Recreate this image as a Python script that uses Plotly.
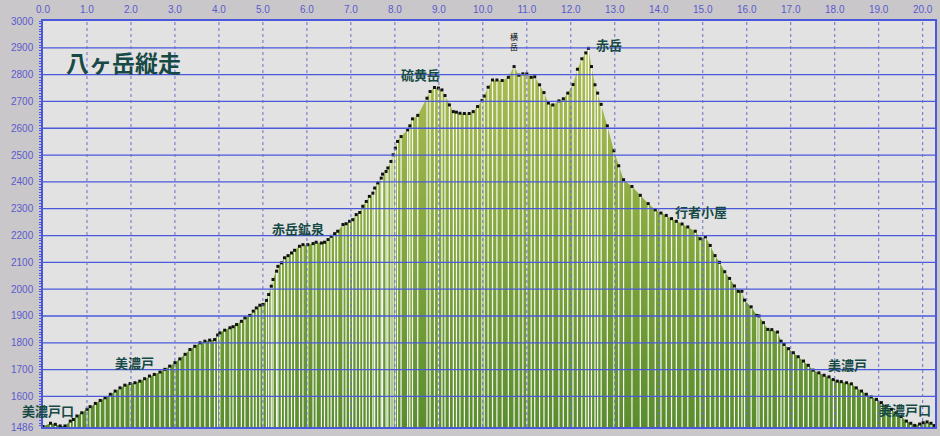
import plotly.graph_objects as go

# distance along route (km) and elevation (m)
dist_km = [
    0.00, 0.17, 0.28, 0.39, 0.50, 0.62, 0.69, 0.77, 0.88, 1.00,
    1.07, 1.19, 1.30, 1.41, 1.53, 1.64, 1.75, 1.86, 1.98, 2.09,
    2.20, 2.31, 2.42, 2.53, 2.66, 2.77, 2.88, 3.00, 3.11, 3.23,
    3.34, 3.45, 3.57, 3.68, 3.79, 3.90, 3.97, 4.02, 4.13, 4.25,
    4.32, 4.40, 4.51, 4.59, 4.70, 4.78, 4.85, 4.93, 5.00, 5.08,
    5.13, 5.19, 5.23, 5.31, 5.34, 5.42, 5.49, 5.57, 5.65, 5.72,
    5.83, 5.91, 6.02, 6.14, 6.21, 6.33, 6.40, 6.48, 6.55, 6.63,
    6.70, 6.82, 6.89, 6.97, 7.04, 7.12, 7.20, 7.27, 7.35, 7.42,
    7.50, 7.54, 7.61, 7.69, 7.72, 7.80, 7.84, 7.91, 7.96, 8.01,
    8.06, 8.14, 8.29, 8.34, 8.40, 8.52, 8.73, 8.80, 8.90, 8.99,
    9.07, 9.14, 9.24, 9.33, 9.40, 9.48, 9.58, 9.69, 9.78, 9.88,
    9.98, 10.03, 10.12, 10.22, 10.32, 10.44, 10.58, 10.71, 10.82, 10.91,
    11.00, 11.10, 11.18, 11.29, 11.39, 11.49, 11.59, 11.73, 11.83, 11.93,
    12.05, 12.15, 12.25, 12.34, 12.40, 12.47, 12.55, 12.61, 12.69, 12.83,
    12.98, 13.09, 13.20, 13.39, 13.58, 13.76, 13.92, 14.05, 14.17, 14.29,
    14.40, 14.53, 14.66, 14.83, 14.94, 15.06, 15.17, 15.28, 15.38, 15.50,
    15.61, 15.72, 15.81, 15.89, 15.95, 16.10, 16.23, 16.28, 16.38, 16.48,
    16.57, 16.70, 16.78, 16.85, 16.95, 17.06, 17.17, 17.29, 17.40, 17.51,
    17.64, 17.76, 17.87, 17.97, 18.06, 18.15, 18.27, 18.38, 18.49, 18.61,
    18.72, 18.83, 18.95, 19.06, 19.17, 19.29, 19.40, 19.51, 19.63, 19.73,
    19.82, 19.93, 20.01, 20.10, 20.19, 20.27,
]
elev_m = [
    1488, 1500, 1496, 1490, 1490, 1508, 1514, 1527, 1539, 1552,
    1562, 1574, 1585, 1595, 1608, 1620, 1632, 1642, 1648, 1651,
    1657, 1666, 1676, 1682, 1691, 1701, 1713, 1726, 1740, 1757,
    1775, 1787, 1800, 1806, 1810, 1812, 1829, 1837, 1847, 1856,
    1860, 1868, 1880, 1893, 1902, 1918, 1930, 1940, 1943, 1958,
    1980, 2011, 2036, 2067, 2085, 2098, 2117, 2125, 2135, 2145,
    2160, 2166, 2166, 2170, 2175, 2172, 2175, 2185, 2197, 2207,
    2216, 2241, 2244, 2253, 2259, 2278, 2286, 2309, 2327, 2346,
    2358, 2377, 2396, 2414, 2429, 2439, 2452, 2476, 2501, 2526,
    2551, 2569, 2594, 2609, 2635, 2648, 2712, 2737, 2752, 2750,
    2743, 2722, 2687, 2662, 2660, 2656, 2655, 2655, 2662, 2681,
    2703, 2720, 2753, 2780, 2780, 2778, 2790, 2830, 2798, 2803,
    2803, 2790, 2792, 2762, 2733, 2694, 2687, 2702, 2710, 2731,
    2763, 2820, 2859, 2881, 2898, 2830, 2762, 2731, 2689, 2609,
    2516, 2460, 2408, 2383, 2350, 2319, 2296, 2284, 2275, 2263,
    2253, 2243, 2232, 2216, 2188, 2195, 2163, 2125, 2100, 2065,
    2040, 2012, 1992, 1992, 1959, 1934, 1902, 1900, 1875, 1850,
    1849, 1840, 1806, 1794, 1778, 1763, 1748, 1732, 1716, 1698,
    1688, 1679, 1673, 1663, 1657, 1655, 1651, 1647, 1632, 1620,
    1608, 1598, 1589, 1577, 1564, 1552, 1539, 1525, 1508, 1500,
    1492, 1497, 1502, 1505, 1500, 1492,
]

# place-name labels: text, km, elevation
label_text = ["美濃戸口", "美濃戸", "赤岳鉱泉", "硫黄岳", "赤岳", "行者小屋", "美濃戸", "美濃戸口"]
label_km = [0.12, 2.09, 5.79, 8.58, 12.87, 14.97, 18.28, 19.60]
label_elev = [1546, 1727, 2226, 2799, 2911, 2289, 1719, 1552]

title_text = "八ヶ岳縦走"
yoko_text = "横<br>岳"

x_ticks = list(range(0, 21))
x_ticktext = [f"{v:.1f}" for v in x_ticks]
y_ticks = [1486] + list(range(1600, 3001, 100))
y_min, y_max = 1486, 3000
x_max = 20.28

# white vertical lines from each point down to the base
vx, vy = [], []
for xv, yv in zip(dist_km, elev_m):
    vx += [xv, xv, None]
    vy += [y_min, yv, None]

fig = go.Figure()
fig.add_trace(go.Scatter(
    x=dist_km, y=elev_m, mode="lines", fill="tozeroy",
    line=dict(width=0, color="rgba(0,0,0,0)"),
    fillgradient=dict(type="vertical", start=y_min, stop=2900,
                      colorscale=[[0, "#5a8c2e"], [0.5, "#84a83e"], [1, "#aebd55"]]),
    hoverinfo="skip", showlegend=False,
))
fig.add_trace(go.Scatter(
    x=vx, y=vy, mode="lines", line=dict(color="rgba(255,255,255,0.95)", width=1.2),
    hoverinfo="skip", showlegend=False,
))
fig.add_trace(go.Scatter(
    x=dist_km, y=elev_m, mode="markers",
    marker=dict(symbol="square", size=3, color="#111111"),
    showlegend=False,
))

blue = "#4a58dc"
shapes = []
for yv in y_ticks[1:-1]:
    shapes.append(dict(type="line", xref="x", yref="y", x0=0, x1=x_max, y0=yv, y1=yv,
                       line=dict(color=blue, width=1.3), layer="above"))
for xv in x_ticks[1:]:
    shapes.append(dict(type="line", xref="x", yref="y", x0=xv, x1=xv, y0=y_min, y1=y_max,
                       line=dict(color="#6a6ec8", width=1, dash="dot"), layer="above"))

annotations = []
for t, xk, ye in zip(label_text, label_km, label_elev):
    annotations.append(dict(x=xk, y=ye, xref="x", yref="y", text=f"<b>{t}</b>", showarrow=False,
                            font=dict(family="Noto Sans CJK JP", size=13, color="#174a46")))
annotations.append(dict(x=1.82, y=2847, xref="x", yref="y", text=f"<b>{title_text}</b>", showarrow=False,
                        font=dict(family="Noto Sans CJK JP", size=23, color="#174a46")))
annotations.append(dict(x=10.71, y=2922, xref="x", yref="y", text=yoko_text, showarrow=False,
                        font=dict(family="Noto Sans CJK JP", size=8, color="#000000")))

fig.update_layout(
    width=940, height=436,
    margin=dict(l=43, r=3, t=21, b=9),
    paper_bgcolor="#c9c7c9", plot_bgcolor="#e2e2e2",
    shapes=shapes, annotations=annotations,
    xaxis=dict(range=[0, x_max], side="top", tickvals=x_ticks, ticktext=x_ticktext,
               showgrid=False, zeroline=False, showline=True, mirror=True,
               linecolor=blue, linewidth=2, ticks="", ticklabelstandoff=2,
               tickfont=dict(family="Liberation Sans", size=10, color="#5a5acd")),
    yaxis=dict(range=[y_min, y_max], tickvals=y_ticks, ticktext=[str(v) for v in y_ticks],
               showgrid=False, zeroline=False, showline=True, mirror=True,
               linecolor=blue, linewidth=1.5, ticks="", ticklabelstandoff=6,
               minor=dict(ticks="outside", dtick=10, ticklen=2, tickcolor=blue),
               tickfont=dict(family="Liberation Sans", size=10, color="#5a5acd")),
    hovermode=False,
)

fig.write_html(
    "out.html",
    config={"displayModeBar": False},
    post_script="document.body.style.margin='0';document.body.style.overflow='hidden';"
                "document.documentElement.style.overflow='hidden';",
)
